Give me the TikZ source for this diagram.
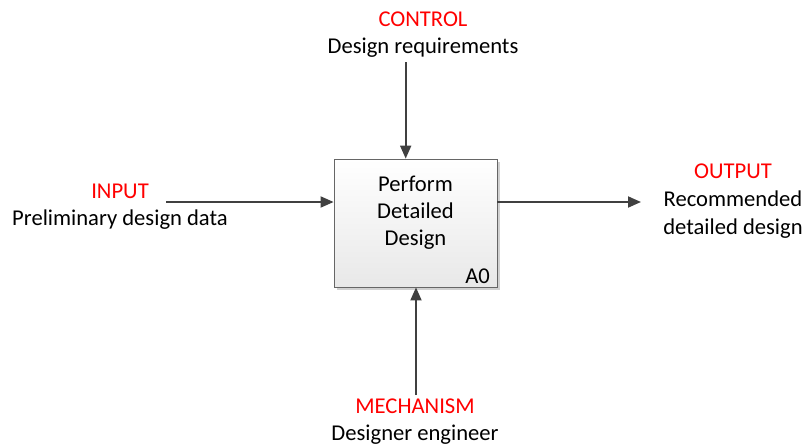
\documentclass[tikz,border=0pt]{standalone}
\usepackage{fontspec}
\setmainfont{Carlito}
\usetikzlibrary{arrows.meta,shadows,calc}
\definecolor{arrowgray}{HTML}{404040}
\definecolor{lblred}{HTML}{FF0000}
\tikzset{
  flow/.style={draw=arrowgray, line width=1.8pt, -{Triangle[length=13pt,width=11pt]}},
  lbl/.style={font=\fontsize{22.6}{27}\selectfont, align=center, inner sep=0pt, text=black},
  activity/.style={draw=gray!80!black, line width=0.8pt, minimum width=163pt, minimum height=128pt,
     top color=white, bottom color=black!9, inner sep=0pt,
     drop shadow={shadow xshift=3pt, shadow yshift=-3pt, fill=black!18, opacity=1}}
}
\begin{document}
\begin{tikzpicture}[x=1pt,y=-1pt]
\useasboundingbox (0,0) rectangle (804,447);
% activity box
\node[activity] (box) at (415.5,223) {};
\node[lbl] (title) at (415.5,212.5) {Perform\\Detailed\\Design};
\node[lbl, anchor=south east] (code) at (490,284) {A0};
% labels
\node[lbl] (ctl) at (423,34.5) {\textcolor{lblred}{CONTROL}\\Design requirements};
\node[lbl] (inp) at (120,207) {\textcolor{lblred}{INPUT}\\Preliminary design data};
\node[lbl, font=\fontsize{22.6}{28}\selectfont] (out) at (733,201.5) {\textcolor{lblred}{OUTPUT}\\Recommended\\detailed design};
\node[lbl] (mech) at (415,421.5) {\textcolor{lblred}{MECHANISM}\\Designer engineer};
% endpoints of the arrows
\coordinate (ctlend) at (405.7,62);
\coordinate (inpend) at (166,202);
\coordinate (outend) at (641,202);
\coordinate (mechend) at (416,395);
\draw[flow] (ctlend) -- (ctlend |- box.north);
\draw[flow] (inpend) -- (inpend -| box.west);
\draw[flow] (outend -| box.east) -- (outend);
\draw[flow] (mechend) -- (mechend |- box.south);
\end{tikzpicture}
\end{document}
